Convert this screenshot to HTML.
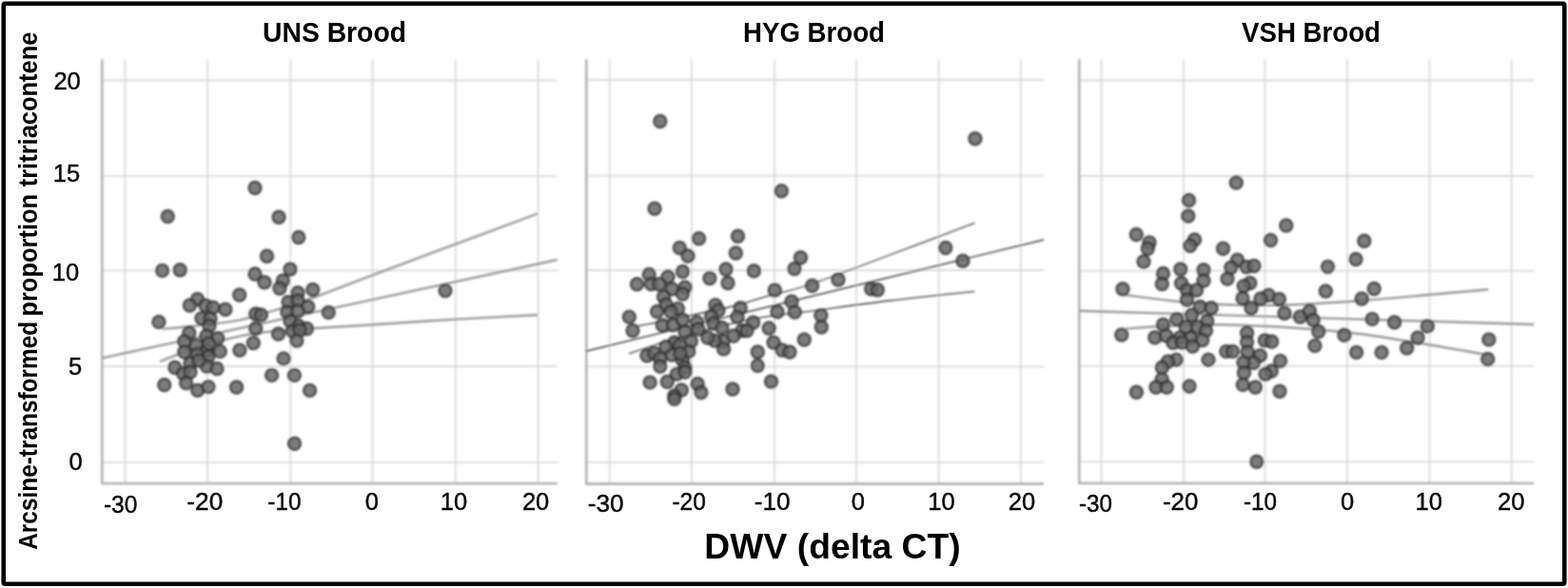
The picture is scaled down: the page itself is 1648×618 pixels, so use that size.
<!DOCTYPE html>
<html lang="en">
<head>
<meta charset="utf-8">
<title>Arcsine-transformed proportion tritriacontene vs DWV (delta CT)</title>
<style>
html,body{margin:0;padding:0;background:#fff;}
body{width:1648px;height:618px;overflow:hidden;}
svg{display:block;}
text{font-family:"Liberation Sans",sans-serif;fill:#0a0a0a;stroke:#0a0a0a;stroke-width:.45;}
.tk{font-size:25.5px;}
.b{font-weight:bold;fill:#000;stroke:none;}
.g{stroke:#dadada;stroke-width:1.8;fill:none;}
.a{stroke:#a8a8a8;stroke-width:2.3;fill:none;}
.d circle{fill:#686868;fill-opacity:.86;stroke:#2e2e2e;stroke-opacity:.8;stroke-width:2.4;}
.l1{stroke:#999;stroke-width:2.4;fill:none;}
.l2{stroke:#3c3c3c;stroke-width:1.3;fill:none;}
.l3{stroke:#999;stroke-width:2.4;fill:none;}
</style>
</head>
<body>
<svg width="1648" height="618" viewBox="0 0 1648 618">
<defs><filter id="soft" x="0" y="0" width="1648" height="618" filterUnits="userSpaceOnUse"><feGaussianBlur stdDeviation="1"/></filter></defs>
<rect x="0" y="0" width="1648" height="618" fill="#ffffff"/>
<rect x="3.75" y="3.7" width="1640.5" height="610" rx="1.5" fill="#ffffff" stroke="#000000" stroke-width="4.6"/>
<g filter="url(#soft)">

<g>
<path class="g" d="M107.3 84.5H585.7M107.3 185.2H585.7M107.3 284.4H585.7M107.3 385H585.7M107.3 485.9H585.7M131.4 62.3V508.2M218 62.3V508.2M305.3 62.3V508.2M391.5 62.3V508.2M478.8 62.3V508.2M565.5 62.3V508.2"/>
<path class="a" d="M107.3 62.3V508.2H585.7"/>
</g>
<g>
<path class="g" d="M616.3 84H1097M616.3 184.6H1097M616.3 284H1097M616.3 385.4H1097M616.3 485.9H1097M640.7 62.3V508.5M727 62.3V508.5M814 62.3V508.5M900 62.3V508.5M986.7 62.3V508.5M1072.8 62.3V508.5"/>
<path class="a" d="M616.3 62.3V508.5H1097"/>
</g>
<g>
<path class="g" d="M1134.3 84.5H1612.2M1134.3 185H1612.2M1134.3 284.6H1612.2M1134.3 384.6H1612.2M1134.3 485.3H1612.2M1157.5 62.3V507.8M1244 62.3V507.8M1329.5 62.3V507.8M1416 62.3V507.8M1502.5 62.3V507.8M1588.6 62.3V507.8"/>
<path class="a" d="M1134.3 62.3V507.8H1612.2"/>
</g>
<g class="l1">
<path d="M107.3 376.3C187 359.1 506 290.2 585.7 273"/>
<path d="M170.6 345.8C177.2 345.2 196.2 343.6 210 342C223.8 340.4 239.9 338.8 253.2 336.1C266.5 333.4 276.8 329.7 289.6 325.8C302.4 321.9 312.9 318.7 330 312.5C347.1 306.3 367.5 298.1 392.5 288.8C417.5 279.4 451.2 267 480 256.2C508.8 245.5 550.8 229.8 565 224.5"/>
<path d="M168.2 379.8C175.2 377.2 195.8 368.9 210 364.5C224.2 360.1 239.9 355.9 253.2 353.1C266.5 350.3 277.2 349.2 290 347.8C302.8 346.4 313 346.1 330 345C347 343.9 367.2 342.9 392 341.3C416.8 339.7 450 337.3 478.8 335.6C507.6 333.9 550.6 331.8 565 331"/>
</g>
<g class="d">
<circle cx="268" cy="197.5" r="6.5"/><circle cx="176.3" cy="227.5" r="6.5"/><circle cx="293" cy="228.3" r="6.5"/><circle cx="313.8" cy="249.5" r="6.5"/><circle cx="280.5" cy="269.3" r="6.5"/><circle cx="170.6" cy="284.4" r="6.5"/><circle cx="189.2" cy="283.8" r="6.5"/><circle cx="305" cy="283" r="6.5"/><circle cx="268" cy="288" r="6.5"/><circle cx="278" cy="296.7" r="6.5"/><circle cx="297.4" cy="295" r="6.5"/><circle cx="294" cy="303" r="6.5"/><circle cx="313" cy="307.8" r="6.5"/><circle cx="328.8" cy="304.5" r="6.5"/><circle cx="251.7" cy="310" r="6.5"/><circle cx="468" cy="305.6" r="6.5"/><circle cx="207.5" cy="314.5" r="6.5"/><circle cx="199.4" cy="321" r="6.5"/><circle cx="216" cy="321" r="6.5"/><circle cx="224" cy="323.1" r="6.5"/><circle cx="236.9" cy="325.3" r="6.5"/><circle cx="211.9" cy="334.6" r="6.5"/><circle cx="221" cy="335" r="6.5"/><circle cx="166.9" cy="338.4" r="6.5"/><circle cx="220" cy="342.5" r="6.5"/><circle cx="198.8" cy="350" r="6.5"/><circle cx="217" cy="353" r="6.5"/><circle cx="228.8" cy="355.6" r="6.5"/><circle cx="268.8" cy="330" r="6.5"/><circle cx="274.4" cy="331" r="6.5"/><circle cx="268.8" cy="345.3" r="6.5"/><circle cx="303" cy="317.5" r="6.5"/><circle cx="313" cy="316" r="6.5"/><circle cx="323.8" cy="322.5" r="6.5"/><circle cx="301.9" cy="328" r="6.5"/><circle cx="313" cy="327" r="6.5"/><circle cx="345.3" cy="328.4" r="6.5"/><circle cx="305" cy="337.5" r="6.5"/><circle cx="313.8" cy="342.5" r="6.5"/><circle cx="322.5" cy="345.5" r="6.5"/><circle cx="292.5" cy="351" r="6.5"/><circle cx="307.5" cy="348" r="6.5"/><circle cx="315" cy="347" r="6.5"/><circle cx="193.8" cy="358.8" r="6.5"/><circle cx="206.3" cy="363.1" r="6.5"/><circle cx="217.5" cy="368.8" r="6.5"/><circle cx="231.3" cy="369.4" r="6.5"/><circle cx="193.8" cy="370" r="6.5"/><circle cx="218.8" cy="375" r="6.5"/><circle cx="200" cy="381.9" r="6.5"/><circle cx="183.8" cy="386.3" r="6.5"/><circle cx="217.5" cy="385" r="6.5"/><circle cx="228.1" cy="387.5" r="6.5"/><circle cx="192.5" cy="392.5" r="6.5"/><circle cx="200" cy="391" r="6.5"/><circle cx="172.7" cy="404.5" r="6.5"/><circle cx="195.6" cy="402.5" r="6.5"/><circle cx="207.7" cy="410.3" r="6.5"/><circle cx="219" cy="406.6" r="6.5"/><circle cx="248.6" cy="407" r="6.5"/><circle cx="251.9" cy="368.1" r="6.5"/><circle cx="266.3" cy="360.6" r="6.5"/><circle cx="311.9" cy="358.1" r="6.5"/><circle cx="298.1" cy="376.9" r="6.5"/><circle cx="285.6" cy="394.4" r="6.5"/><circle cx="309.4" cy="394.4" r="6.5"/><circle cx="325.6" cy="410.4" r="6.5"/><circle cx="309.5" cy="466.3" r="6.5"/><circle cx="207.5" cy="372.5" r="6.5"/><circle cx="209" cy="379" r="6.5"/><circle cx="219.5" cy="361" r="6.5"/>
</g>
<g class="l2">
<path d="M616.3 369C696.4 349.5 1016.9 271.5 1097 252"/>
<path d="M670.6 342.5C673.8 341.9 674.2 342.1 690 338.8C705.8 335.6 745.7 327.6 765.3 323C784.9 318.4 793.7 314.8 807.8 310.9C821.9 307 828.8 306.6 850 299.5C871.2 292.4 905.9 278.9 935 268C964.1 257.1 1009.6 239.9 1024.5 234.3"/>
<path d="M661 371.6C665.8 370 676 366.3 690 362C704 357.7 726.4 350.8 745 346C763.6 341.2 784.2 336.5 801.7 333.4C819.2 330.3 827.8 330.2 850 327.3C872.2 324.4 906 319.5 935 316C964 312.5 1009.4 307.9 1024.3 306.3"/>
</g>
<g class="d">
<circle cx="693.8" cy="127.5" r="6.5"/><circle cx="1024.9" cy="145.7" r="6.5"/><circle cx="821.3" cy="200.8" r="6.5"/><circle cx="688" cy="219.3" r="6.5"/><circle cx="734.5" cy="250.8" r="6.5"/><circle cx="775.5" cy="248.3" r="6.5"/><circle cx="714.3" cy="260.5" r="6.5"/><circle cx="723" cy="269" r="6.5"/><circle cx="773.3" cy="266" r="6.5"/><circle cx="841.5" cy="270.8" r="6.5"/><circle cx="835" cy="282.5" r="6.5"/><circle cx="993.8" cy="260.5" r="6.5"/><circle cx="1012" cy="274.3" r="6.5"/><circle cx="763" cy="283" r="6.5"/><circle cx="792.4" cy="284.8" r="6.5"/><circle cx="717.5" cy="285.5" r="6.5"/><circle cx="682.2" cy="288.4" r="6.5"/><circle cx="702" cy="291" r="6.5"/><circle cx="745.9" cy="292.5" r="6.5"/><circle cx="765" cy="297.5" r="6.5"/><circle cx="669.5" cy="298.8" r="6.5"/><circle cx="684.4" cy="298.5" r="6.5"/><circle cx="692.8" cy="298.8" r="6.5"/><circle cx="881" cy="294" r="6.5"/><circle cx="853.6" cy="300.3" r="6.5"/><circle cx="814.3" cy="305" r="6.5"/><circle cx="915.7" cy="303.8" r="6.5"/><circle cx="922.3" cy="304.8" r="6.5"/><circle cx="706.3" cy="303.8" r="6.5"/><circle cx="720" cy="302" r="6.5"/><circle cx="717.5" cy="309" r="6.5"/><circle cx="697.5" cy="312" r="6.5"/><circle cx="832" cy="317" r="6.5"/><circle cx="700" cy="320" r="6.5"/><circle cx="712.5" cy="324.4" r="6.5"/><circle cx="690.6" cy="327.5" r="6.5"/><circle cx="705" cy="327.5" r="6.5"/><circle cx="661.3" cy="333.1" r="6.5"/><circle cx="665" cy="347.5" r="6.5"/><circle cx="696.3" cy="341.8" r="6.5"/><circle cx="707.5" cy="341.6" r="6.5"/><circle cx="717.5" cy="336.3" r="6.5"/><circle cx="720" cy="348.8" r="6.5"/><circle cx="732.5" cy="338.8" r="6.5"/><circle cx="733.8" cy="346" r="6.5"/><circle cx="751.9" cy="320.6" r="6.5"/><circle cx="755" cy="326.3" r="6.5"/><circle cx="747.5" cy="332.5" r="6.5"/><circle cx="750" cy="340" r="6.5"/><circle cx="758.8" cy="344.5" r="6.5"/><circle cx="778.1" cy="323.8" r="6.5"/><circle cx="775" cy="333.1" r="6.5"/><circle cx="791.6" cy="339" r="6.5"/><circle cx="780" cy="347.5" r="6.5"/><circle cx="785" cy="347.5" r="6.5"/><circle cx="771" cy="353" r="6.5"/><circle cx="808.2" cy="345" r="6.5"/><circle cx="817" cy="327.7" r="6.5"/><circle cx="835.3" cy="328" r="6.5"/><circle cx="845.3" cy="357" r="6.5"/><circle cx="726.3" cy="358.8" r="6.5"/><circle cx="708.8" cy="360" r="6.5"/><circle cx="700" cy="364.4" r="6.5"/><circle cx="723.8" cy="369.4" r="6.5"/><circle cx="706.3" cy="373.1" r="6.5"/><circle cx="680" cy="373.8" r="6.5"/><circle cx="687.5" cy="371.3" r="6.5"/><circle cx="693.8" cy="376.9" r="6.5"/><circle cx="693.8" cy="385" r="6.5"/><circle cx="717.5" cy="378.8" r="6.5"/><circle cx="720" cy="386.3" r="6.5"/><circle cx="711.3" cy="393.1" r="6.5"/><circle cx="720" cy="391" r="6.5"/><circle cx="701.3" cy="401.3" r="6.5"/><circle cx="683.1" cy="401.9" r="6.5"/><circle cx="716.3" cy="410" r="6.5"/><circle cx="708.8" cy="416" r="6.5"/><circle cx="708.8" cy="419.4" r="6.5"/><circle cx="733.1" cy="403.5" r="6.5"/><circle cx="736.9" cy="412.5" r="6.5"/><circle cx="770" cy="409" r="6.5"/><circle cx="810.5" cy="401" r="6.5"/><circle cx="796.3" cy="384.4" r="6.5"/><circle cx="796.3" cy="370" r="6.5"/><circle cx="813" cy="360" r="6.5"/><circle cx="822" cy="368" r="6.5"/><circle cx="830" cy="370" r="6.5"/><circle cx="760" cy="358.8" r="6.5"/><circle cx="751.3" cy="358.1" r="6.5"/><circle cx="743.8" cy="355" r="6.5"/><circle cx="760.6" cy="366.9" r="6.5"/><circle cx="862.9" cy="331.6" r="6.5"/><circle cx="863.3" cy="343.8" r="6.5"/><circle cx="714.5" cy="363" r="6.5"/><circle cx="715" cy="371.5" r="6.5"/>
</g>
<g class="l3">
<path d="M1134.3 326.7C1214 329.1 1532.5 338.6 1612.2 341"/>
<path d="M1183 310C1190.8 311 1213 314.3 1230 316C1247 317.7 1264.8 319.2 1285 320C1305.2 320.8 1326.8 321.2 1351 320.5C1375.2 319.8 1405.2 317.8 1430 316C1454.8 314.2 1477.6 312 1500 310C1522.4 308 1553.6 305.2 1564.3 304.2"/>
<path d="M1183 345.5C1190.8 345 1213 343.2 1230 342.5C1247 341.8 1262.3 340.9 1285 341.3C1307.7 341.7 1341.8 343.4 1366 345C1390.2 346.6 1407.7 348.2 1430 351C1452.3 353.8 1477.9 358.4 1500 362C1522.1 365.6 1552 371 1562.4 372.8"/>
</g>
<g class="d">
<circle cx="1299.3" cy="192" r="6.5"/><circle cx="1249.5" cy="210.5" r="6.5"/><circle cx="1248.8" cy="227" r="6.5"/><circle cx="1351.8" cy="237" r="6.5"/><circle cx="1194.3" cy="246.5" r="6.5"/><circle cx="1208" cy="255" r="6.5"/><circle cx="1206.3" cy="261.3" r="6.5"/><circle cx="1255.5" cy="252" r="6.5"/><circle cx="1250.8" cy="258.3" r="6.5"/><circle cx="1335.5" cy="252.5" r="6.5"/><circle cx="1433.8" cy="253.3" r="6.5"/><circle cx="1285.5" cy="261.3" r="6.5"/><circle cx="1202" cy="275" r="6.5"/><circle cx="1425" cy="272.5" r="6.5"/><circle cx="1300.5" cy="273.3" r="6.5"/><circle cx="1293.8" cy="281.3" r="6.5"/><circle cx="1310" cy="280.5" r="6.5"/><circle cx="1318" cy="279.5" r="6.5"/><circle cx="1395.5" cy="280.4" r="6.5"/><circle cx="1240.8" cy="283" r="6.5"/><circle cx="1265" cy="283.8" r="6.5"/><circle cx="1222.5" cy="287.5" r="6.5"/><circle cx="1290" cy="293" r="6.5"/><circle cx="1265" cy="295" r="6.5"/><circle cx="1241.6" cy="297.8" r="6.5"/><circle cx="1221.3" cy="298.5" r="6.5"/><circle cx="1313.8" cy="297.5" r="6.5"/><circle cx="1307.2" cy="300.6" r="6.5"/><circle cx="1180" cy="303.8" r="6.5"/><circle cx="1393.3" cy="306" r="6.5"/><circle cx="1444.2" cy="303.5" r="6.5"/><circle cx="1247.5" cy="305" r="6.5"/><circle cx="1257.5" cy="305" r="6.5"/><circle cx="1333.2" cy="310.3" r="6.5"/><circle cx="1325" cy="314" r="6.5"/><circle cx="1344.5" cy="314.5" r="6.5"/><circle cx="1306" cy="313.5" r="6.5"/><circle cx="1431.2" cy="314" r="6.5"/><circle cx="1247.5" cy="315" r="6.5"/><circle cx="1178.8" cy="352" r="6.5"/><circle cx="1315" cy="323.8" r="6.5"/><circle cx="1350" cy="329.3" r="6.5"/><circle cx="1366.5" cy="333" r="6.5"/><circle cx="1261.3" cy="322.5" r="6.5"/><circle cx="1273.1" cy="323.8" r="6.5"/><circle cx="1252.5" cy="331.3" r="6.5"/><circle cx="1236.9" cy="335.6" r="6.5"/><circle cx="1268.8" cy="337.5" r="6.5"/><circle cx="1222.5" cy="341.3" r="6.5"/><circle cx="1246.3" cy="343.8" r="6.5"/><circle cx="1258.8" cy="343.8" r="6.5"/><circle cx="1267.5" cy="347.5" r="6.5"/><circle cx="1213.8" cy="354.7" r="6.5"/><circle cx="1225.6" cy="352.8" r="6.5"/><circle cx="1240" cy="355" r="6.5"/><circle cx="1251.3" cy="355.3" r="6.5"/><circle cx="1263.8" cy="357.5" r="6.5"/><circle cx="1233" cy="360.3" r="6.5"/><circle cx="1242.5" cy="360" r="6.5"/><circle cx="1253.5" cy="364" r="6.5"/><circle cx="1310.6" cy="350" r="6.5"/><circle cx="1310.6" cy="359.5" r="6.5"/><circle cx="1329.4" cy="357.8" r="6.5"/><circle cx="1336.6" cy="359" r="6.5"/><circle cx="1288.8" cy="369.4" r="6.5"/><circle cx="1295.6" cy="369.4" r="6.5"/><circle cx="1270" cy="378.1" r="6.5"/><circle cx="1236.3" cy="378.1" r="6.5"/><circle cx="1227.5" cy="380" r="6.5"/><circle cx="1221.3" cy="386.3" r="6.5"/><circle cx="1221.2" cy="398.6" r="6.5"/><circle cx="1215" cy="407" r="6.5"/><circle cx="1226.3" cy="407" r="6.5"/><circle cx="1194.4" cy="412.2" r="6.5"/><circle cx="1250" cy="406" r="6.5"/><circle cx="1311.3" cy="370" r="6.5"/><circle cx="1324.4" cy="373.8" r="6.5"/><circle cx="1317.5" cy="381.3" r="6.5"/><circle cx="1306.9" cy="381.3" r="6.5"/><circle cx="1307.5" cy="391.7" r="6.5"/><circle cx="1306.3" cy="404.4" r="6.5"/><circle cx="1319.4" cy="407" r="6.5"/><circle cx="1345.6" cy="379.4" r="6.5"/><circle cx="1336.3" cy="390" r="6.5"/><circle cx="1330" cy="393.3" r="6.5"/><circle cx="1345" cy="411.3" r="6.5"/><circle cx="1376.4" cy="327" r="6.5"/><circle cx="1380.2" cy="336.3" r="6.5"/><circle cx="1385.8" cy="348.5" r="6.5"/><circle cx="1412.9" cy="352.2" r="6.5"/><circle cx="1382" cy="363.4" r="6.5"/><circle cx="1442.2" cy="335.4" r="6.5"/><circle cx="1465.6" cy="338.8" r="6.5"/><circle cx="1500.3" cy="342.9" r="6.5"/><circle cx="1490.1" cy="355" r="6.5"/><circle cx="1478.7" cy="365.7" r="6.5"/><circle cx="1452.1" cy="370.4" r="6.5"/><circle cx="1425.6" cy="370.4" r="6.5"/><circle cx="1564.8" cy="356.9" r="6.5"/><circle cx="1563.7" cy="377.5" r="6.5"/><circle cx="1320.8" cy="485.3" r="6.5"/>
</g>
</g>
<text class="tk" x="84.8" y="93.6" text-anchor="end">20</text>
<text class="tk" x="84.2" y="191.2" text-anchor="end">15</text>
<text class="tk" x="83.2" y="294.6" text-anchor="end">10</text>
<text class="tk" x="86.2" y="393.6" text-anchor="end">5</text>
<text class="tk" x="86.8" y="494" text-anchor="end">0</text>
<text class="tk" x="126.6" y="538.5" text-anchor="middle" textLength="35.4" lengthAdjust="spacingAndGlyphs">-30</text>
<text class="tk" x="215.3" y="536" text-anchor="middle" textLength="37.9" lengthAdjust="spacingAndGlyphs">-20</text>
<text class="tk" x="298.9" y="536" text-anchor="middle" textLength="35.1" lengthAdjust="spacingAndGlyphs">-10</text>
<text class="tk" x="390.8" y="536" text-anchor="middle">0</text>
<text class="tk" x="476.9" y="536" text-anchor="middle">10</text>
<text class="tk" x="563.1" y="536" text-anchor="middle">20</text>
<text class="tk" x="636.6" y="538.3" text-anchor="middle" textLength="37.8" lengthAdjust="spacingAndGlyphs">-30</text>
<text class="tk" x="724.1" y="536.3" text-anchor="middle" textLength="35.4" lengthAdjust="spacingAndGlyphs">-20</text>
<text class="tk" x="811.6" y="536.3" text-anchor="middle" textLength="37.8" lengthAdjust="spacingAndGlyphs">-10</text>
<text class="tk" x="901.9" y="536.3" text-anchor="middle">0</text>
<text class="tk" x="989.5" y="536.3" text-anchor="middle">10</text>
<text class="tk" x="1074" y="536.3" text-anchor="middle">20</text>
<text class="tk" x="1151.4" y="538" text-anchor="middle" textLength="35" lengthAdjust="spacingAndGlyphs">-30</text>
<text class="tk" x="1240.6" y="536" text-anchor="middle" textLength="37.4" lengthAdjust="spacingAndGlyphs">-20</text>
<text class="tk" x="1324.5" y="536" text-anchor="middle" textLength="35.1" lengthAdjust="spacingAndGlyphs">-10</text>
<text class="tk" x="1416" y="536" text-anchor="middle">0</text>
<text class="tk" x="1501.8" y="536" text-anchor="middle">10</text>
<text class="tk" x="1588.2" y="536" text-anchor="middle">20</text>
<text class="b" x="276" y="43.5" font-size="28.6" textLength="151" lengthAdjust="spacingAndGlyphs">UNS Brood</text>
<text class="b" x="781" y="43.5" font-size="28.6" textLength="149" lengthAdjust="spacingAndGlyphs">HYG Brood</text>
<text class="b" x="1305" y="43.5" font-size="28.6" textLength="146" lengthAdjust="spacingAndGlyphs">VSH Brood</text>
<text class="b" x="740.3" y="587.2" font-size="36.8" textLength="269.5" lengthAdjust="spacingAndGlyphs">DWV (delta CT)</text>
<text class="b" font-size="27" transform="translate(39.4 577.8) rotate(-90)"><tspan x="0" textLength="240" lengthAdjust="spacingAndGlyphs">Arcsine-transformed</tspan> <tspan x="245.2" textLength="128.8" lengthAdjust="spacingAndGlyphs">proportion</tspan> <tspan x="381.5" textLength="162.8" lengthAdjust="spacingAndGlyphs">tritriacontene</tspan></text>
</svg>
</body>
</html>
